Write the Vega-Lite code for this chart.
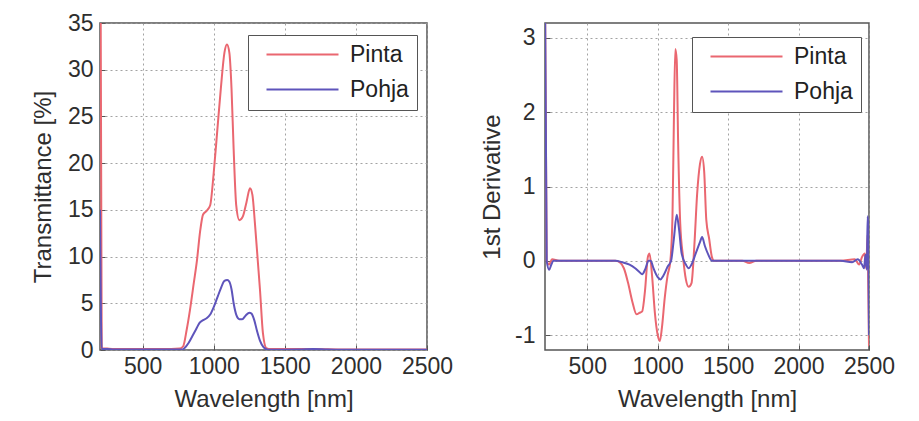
{
  "$schema": "https://vega.github.io/schema/vega-lite/v6.json",
  "background": "white",
  "padding": {"left": 30, "top": 11, "right": 5, "bottom": 5},
  "datasets": {
    "trans": [
      {"wl": 200, "s": "Pinta", "v": 60}, {"wl": 212, "s": "Pinta", "v": 0.2}, {"wl": 250, "s": "Pinta", "v": 0.15}, {"wl": 300, "s": "Pinta", "v": 0.1}, {"wl": 400, "s": "Pinta", "v": 0.1}, {"wl": 500, "s": "Pinta", "v": 0.1}, {"wl": 600, "s": "Pinta", "v": 0.1}, {"wl": 700, "s": "Pinta", "v": 0.1}, {"wl": 760, "s": "Pinta", "v": 0.15}, {"wl": 785, "s": "Pinta", "v": 0.4}, {"wl": 810, "s": "Pinta", "v": 2.2}, {"wl": 833, "s": "Pinta", "v": 4.3}, {"wl": 860, "s": "Pinta", "v": 7.2}, {"wl": 882, "s": "Pinta", "v": 9.6}, {"wl": 905, "s": "Pinta", "v": 12.8}, {"wl": 925, "s": "Pinta", "v": 14.5}, {"wl": 950, "s": "Pinta", "v": 14.9}, {"wl": 975, "s": "Pinta", "v": 15.5}, {"wl": 1000, "s": "Pinta", "v": 19}, {"wl": 1025, "s": "Pinta", "v": 23.5}, {"wl": 1050, "s": "Pinta", "v": 28}, {"wl": 1075, "s": "Pinta", "v": 31.8}, {"wl": 1093, "s": "Pinta", "v": 32.7}, {"wl": 1110, "s": "Pinta", "v": 31.8}, {"wl": 1125, "s": "Pinta", "v": 28}, {"wl": 1140, "s": "Pinta", "v": 21.5}, {"wl": 1158, "s": "Pinta", "v": 15.5}, {"wl": 1180, "s": "Pinta", "v": 13.9}, {"wl": 1205, "s": "Pinta", "v": 14.3}, {"wl": 1230, "s": "Pinta", "v": 15.8}, {"wl": 1255, "s": "Pinta", "v": 17.3}, {"wl": 1272, "s": "Pinta", "v": 16.6}, {"wl": 1290, "s": "Pinta", "v": 13.5}, {"wl": 1310, "s": "Pinta", "v": 9.5}, {"wl": 1325, "s": "Pinta", "v": 6.5}, {"wl": 1346, "s": "Pinta", "v": 1.8}, {"wl": 1370, "s": "Pinta", "v": 0.2}, {"wl": 1400, "s": "Pinta", "v": 0.1}, {"wl": 1600, "s": "Pinta", "v": 0.1}, {"wl": 1800, "s": "Pinta", "v": 0.08}, {"wl": 2000, "s": "Pinta", "v": 0.05}, {"wl": 2500, "s": "Pinta", "v": 0.05},
      {"wl": 200, "s": "Pohja", "v": 15}, {"wl": 212, "s": "Pohja", "v": 0.1}, {"wl": 250, "s": "Pohja", "v": 0.1}, {"wl": 300, "s": "Pohja", "v": 0.05}, {"wl": 500, "s": "Pohja", "v": 0.05}, {"wl": 700, "s": "Pohja", "v": 0.05}, {"wl": 780, "s": "Pohja", "v": 0.05}, {"wl": 800, "s": "Pohja", "v": 0.3}, {"wl": 825, "s": "Pohja", "v": 0.8}, {"wl": 850, "s": "Pohja", "v": 1.5}, {"wl": 875, "s": "Pohja", "v": 2.2}, {"wl": 900, "s": "Pohja", "v": 2.9}, {"wl": 925, "s": "Pohja", "v": 3.2}, {"wl": 950, "s": "Pohja", "v": 3.4}, {"wl": 975, "s": "Pohja", "v": 3.8}, {"wl": 1000, "s": "Pohja", "v": 4.6}, {"wl": 1025, "s": "Pohja", "v": 5.6}, {"wl": 1050, "s": "Pohja", "v": 6.6}, {"wl": 1075, "s": "Pohja", "v": 7.4}, {"wl": 1095, "s": "Pohja", "v": 7.5}, {"wl": 1110, "s": "Pohja", "v": 7.3}, {"wl": 1125, "s": "Pohja", "v": 6.5}, {"wl": 1140, "s": "Pohja", "v": 5.0}, {"wl": 1160, "s": "Pohja", "v": 3.7}, {"wl": 1180, "s": "Pohja", "v": 3.3}, {"wl": 1200, "s": "Pohja", "v": 3.3}, {"wl": 1225, "s": "Pohja", "v": 3.7}, {"wl": 1250, "s": "Pohja", "v": 4.0}, {"wl": 1265, "s": "Pohja", "v": 3.9}, {"wl": 1285, "s": "Pohja", "v": 3.2}, {"wl": 1305, "s": "Pohja", "v": 2.0}, {"wl": 1325, "s": "Pohja", "v": 1.0}, {"wl": 1350, "s": "Pohja", "v": 0.3}, {"wl": 1375, "s": "Pohja", "v": 0.05}, {"wl": 1400, "s": "Pohja", "v": 0.02}, {"wl": 1600, "s": "Pohja", "v": 0.05}, {"wl": 1700, "s": "Pohja", "v": 0.12}, {"wl": 1800, "s": "Pohja", "v": 0.05}, {"wl": 1900, "s": "Pohja", "v": 0.02}, {"wl": 2500, "s": "Pohja", "v": 0.02}
    ],
    "deriv": [
      {"wl": 200, "s": "Pinta", "v": 3.6}, {"wl": 212, "s": "Pinta", "v": 0.0}, {"wl": 230, "s": "Pinta", "v": -0.05}, {"wl": 250, "s": "Pinta", "v": 0.02}, {"wl": 300, "s": "Pinta", "v": 0}, {"wl": 500, "s": "Pinta", "v": 0}, {"wl": 700, "s": "Pinta", "v": 0}, {"wl": 730, "s": "Pinta", "v": -0.02}, {"wl": 760, "s": "Pinta", "v": -0.1}, {"wl": 790, "s": "Pinta", "v": -0.3}, {"wl": 820, "s": "Pinta", "v": -0.55}, {"wl": 850, "s": "Pinta", "v": -0.72}, {"wl": 870, "s": "Pinta", "v": -0.7}, {"wl": 890, "s": "Pinta", "v": -0.68}, {"wl": 910, "s": "Pinta", "v": -0.4}, {"wl": 930, "s": "Pinta", "v": 0.05}, {"wl": 942, "s": "Pinta", "v": 0.1}, {"wl": 960, "s": "Pinta", "v": -0.2}, {"wl": 980, "s": "Pinta", "v": -0.7}, {"wl": 1000, "s": "Pinta", "v": -1.0}, {"wl": 1015, "s": "Pinta", "v": -1.08}, {"wl": 1030, "s": "Pinta", "v": -0.9}, {"wl": 1050, "s": "Pinta", "v": -0.5}, {"wl": 1070, "s": "Pinta", "v": -0.2}, {"wl": 1090, "s": "Pinta", "v": 0}, {"wl": 1105, "s": "Pinta", "v": 0.6}, {"wl": 1115, "s": "Pinta", "v": 1.9}, {"wl": 1125, "s": "Pinta", "v": 2.85}, {"wl": 1135, "s": "Pinta", "v": 2.7}, {"wl": 1145, "s": "Pinta", "v": 1.6}, {"wl": 1160, "s": "Pinta", "v": 0.5}, {"wl": 1180, "s": "Pinta", "v": 0.05}, {"wl": 1200, "s": "Pinta", "v": -0.25}, {"wl": 1220, "s": "Pinta", "v": -0.35}, {"wl": 1240, "s": "Pinta", "v": -0.3}, {"wl": 1260, "s": "Pinta", "v": 0.2}, {"wl": 1280, "s": "Pinta", "v": 0.9}, {"wl": 1300, "s": "Pinta", "v": 1.3}, {"wl": 1315, "s": "Pinta", "v": 1.4}, {"wl": 1330, "s": "Pinta", "v": 1.2}, {"wl": 1345, "s": "Pinta", "v": 0.55}, {"wl": 1365, "s": "Pinta", "v": 0.3}, {"wl": 1385, "s": "Pinta", "v": 0.05}, {"wl": 1400, "s": "Pinta", "v": 0}, {"wl": 1600, "s": "Pinta", "v": 0}, {"wl": 1650, "s": "Pinta", "v": -0.03}, {"wl": 1700, "s": "Pinta", "v": 0}, {"wl": 2300, "s": "Pinta", "v": 0}, {"wl": 2400, "s": "Pinta", "v": 0.02}, {"wl": 2430, "s": "Pinta", "v": -0.05}, {"wl": 2450, "s": "Pinta", "v": 0.05}, {"wl": 2470, "s": "Pinta", "v": 0.1}, {"wl": 2480, "s": "Pinta", "v": -0.1}, {"wl": 2490, "s": "Pinta", "v": 0.35}, {"wl": 2495, "s": "Pinta", "v": -0.4}, {"wl": 2500, "s": "Pinta", "v": -1.15},
      {"wl": 200, "s": "Pohja", "v": 3.6}, {"wl": 212, "s": "Pohja", "v": 0}, {"wl": 230, "s": "Pohja", "v": -0.12}, {"wl": 245, "s": "Pohja", "v": -0.05}, {"wl": 260, "s": "Pohja", "v": 0}, {"wl": 300, "s": "Pohja", "v": 0}, {"wl": 700, "s": "Pohja", "v": 0}, {"wl": 750, "s": "Pohja", "v": -0.02}, {"wl": 800, "s": "Pohja", "v": -0.05}, {"wl": 840, "s": "Pohja", "v": -0.1}, {"wl": 870, "s": "Pohja", "v": -0.15}, {"wl": 890, "s": "Pohja", "v": -0.18}, {"wl": 910, "s": "Pohja", "v": -0.12}, {"wl": 935, "s": "Pohja", "v": 0}, {"wl": 950, "s": "Pohja", "v": 0}, {"wl": 970, "s": "Pohja", "v": -0.1}, {"wl": 1000, "s": "Pohja", "v": -0.22}, {"wl": 1020, "s": "Pohja", "v": -0.25}, {"wl": 1040, "s": "Pohja", "v": -0.2}, {"wl": 1070, "s": "Pohja", "v": -0.08}, {"wl": 1095, "s": "Pohja", "v": 0}, {"wl": 1115, "s": "Pohja", "v": 0.3}, {"wl": 1135, "s": "Pohja", "v": 0.62}, {"wl": 1150, "s": "Pohja", "v": 0.45}, {"wl": 1170, "s": "Pohja", "v": 0.1}, {"wl": 1200, "s": "Pohja", "v": -0.05}, {"wl": 1220, "s": "Pohja", "v": -0.1}, {"wl": 1240, "s": "Pohja", "v": -0.05}, {"wl": 1270, "s": "Pohja", "v": 0.1}, {"wl": 1300, "s": "Pohja", "v": 0.25}, {"wl": 1315, "s": "Pohja", "v": 0.32}, {"wl": 1335, "s": "Pohja", "v": 0.2}, {"wl": 1360, "s": "Pohja", "v": 0.08}, {"wl": 1385, "s": "Pohja", "v": 0}, {"wl": 1400, "s": "Pohja", "v": 0}, {"wl": 2300, "s": "Pohja", "v": 0}, {"wl": 2380, "s": "Pohja", "v": -0.02}, {"wl": 2420, "s": "Pohja", "v": 0.02}, {"wl": 2450, "s": "Pohja", "v": -0.05}, {"wl": 2465, "s": "Pohja", "v": -0.1}, {"wl": 2475, "s": "Pohja", "v": 0.08}, {"wl": 2485, "s": "Pohja", "v": -0.12}, {"wl": 2490, "s": "Pohja", "v": 0.6}, {"wl": 2495, "s": "Pohja", "v": 0.45}, {"wl": 2500, "s": "Pohja", "v": -1.0}
    ]
  },
  "config": {
    "font": "Liberation Sans",
    "view": {"stroke": "#555", "strokeWidth": 1.5},
    "axis": {
      "labelFont": "Liberation Sans", "labelFontSize": 23, "labelColor": "#2e2e2e",
      "titleFont": "Liberation Sans", "titleFontSize": 24, "titleFontWeight": "normal", "titleColor": "#2e2e2e",
      "grid": true, "gridDash": [2, 3], "gridColor": "#999", "gridOpacity": 0.9,
      "domain": false, "ticks": true, "tickSize": -5, "tickColor": "#555", "tickWidth": 1,
      "labelOverlap": false, "labelFlush": false, "format": "d"
    },
    "legend": {
      "orient": "none", "symbolType": "M-5,0H5", "symbolSize": 207.36, "symbolStrokeWidth": 2,
      "labelFont": "Liberation Sans", "labelFontSize": 23, "labelColor": "#222",
      "strokeColor": "#555", "fillColor": "white", "padding": 8, "symbolOffset": 35,
      "labelOffset": 36, "rowPadding": 11, "title": null
    }
  },
  "bounds": "flush",
  "spacing": 118,
  "resolve": {"scale": {"color": "independent"}, "legend": {"color": "independent"}},
  "hconcat": [
    {
      "width": 327, "height": 327,
      "data": {"name": "trans"},
      "mark": {"type": "line", "clip": true, "strokeWidth": 2, "interpolate": "monotone"},
      "encoding": {
        "x": {"field": "wl", "type": "quantitative", "scale": {"domain": [200, 2500], "nice": false, "zero": false},
              "axis": {"title": "Wavelength [nm]", "values": [500, 1000, 1500, 2000, 2500], "labelPadding": 10, "titlePadding": 9}},
        "y": {"field": "v", "type": "quantitative", "scale": {"domain": [0, 35], "nice": false},
              "axis": {"title": "Transmittance [%]", "values": [0, 5, 10, 15, 20, 25, 30, 35], "labelPadding": 12, "titlePadding": 12}},
        "color": {"field": "s", "type": "nominal", "scale": {"domain": ["Pinta", "Pohja"], "range": ["#ea6770", "#5e54bb"]},
                  "legend": {"legendX": 148, "legendY": 12}}
      }
    },
    {
      "width": 324, "height": 327,
      "data": {"name": "deriv"},
      "mark": {"type": "line", "clip": true, "strokeWidth": 2, "interpolate": "monotone"},
      "encoding": {
        "x": {"field": "wl", "type": "quantitative", "scale": {"domain": [200, 2500], "nice": false, "zero": false},
              "axis": {"title": "Wavelength [nm]", "values": [500, 1000, 1500, 2000, 2500], "labelPadding": 10, "titlePadding": 9}},
        "y": {"field": "v", "type": "quantitative", "scale": {"domain": [-1.2, 3.2], "nice": false},
              "axis": {"title": "1st Derivative", "values": [-1, 0, 1, 2, 3], "labelExpr": "'' + datum.value", "labelPadding": 15, "titlePadding": 10}},
        "color": {"field": "s", "type": "nominal", "scale": {"domain": ["Pinta", "Pohja"], "range": ["#ea6770", "#5e54bb"]},
                  "legend": {"legendX": 147, "legendY": 14}}
      }
    }
  ]
}
